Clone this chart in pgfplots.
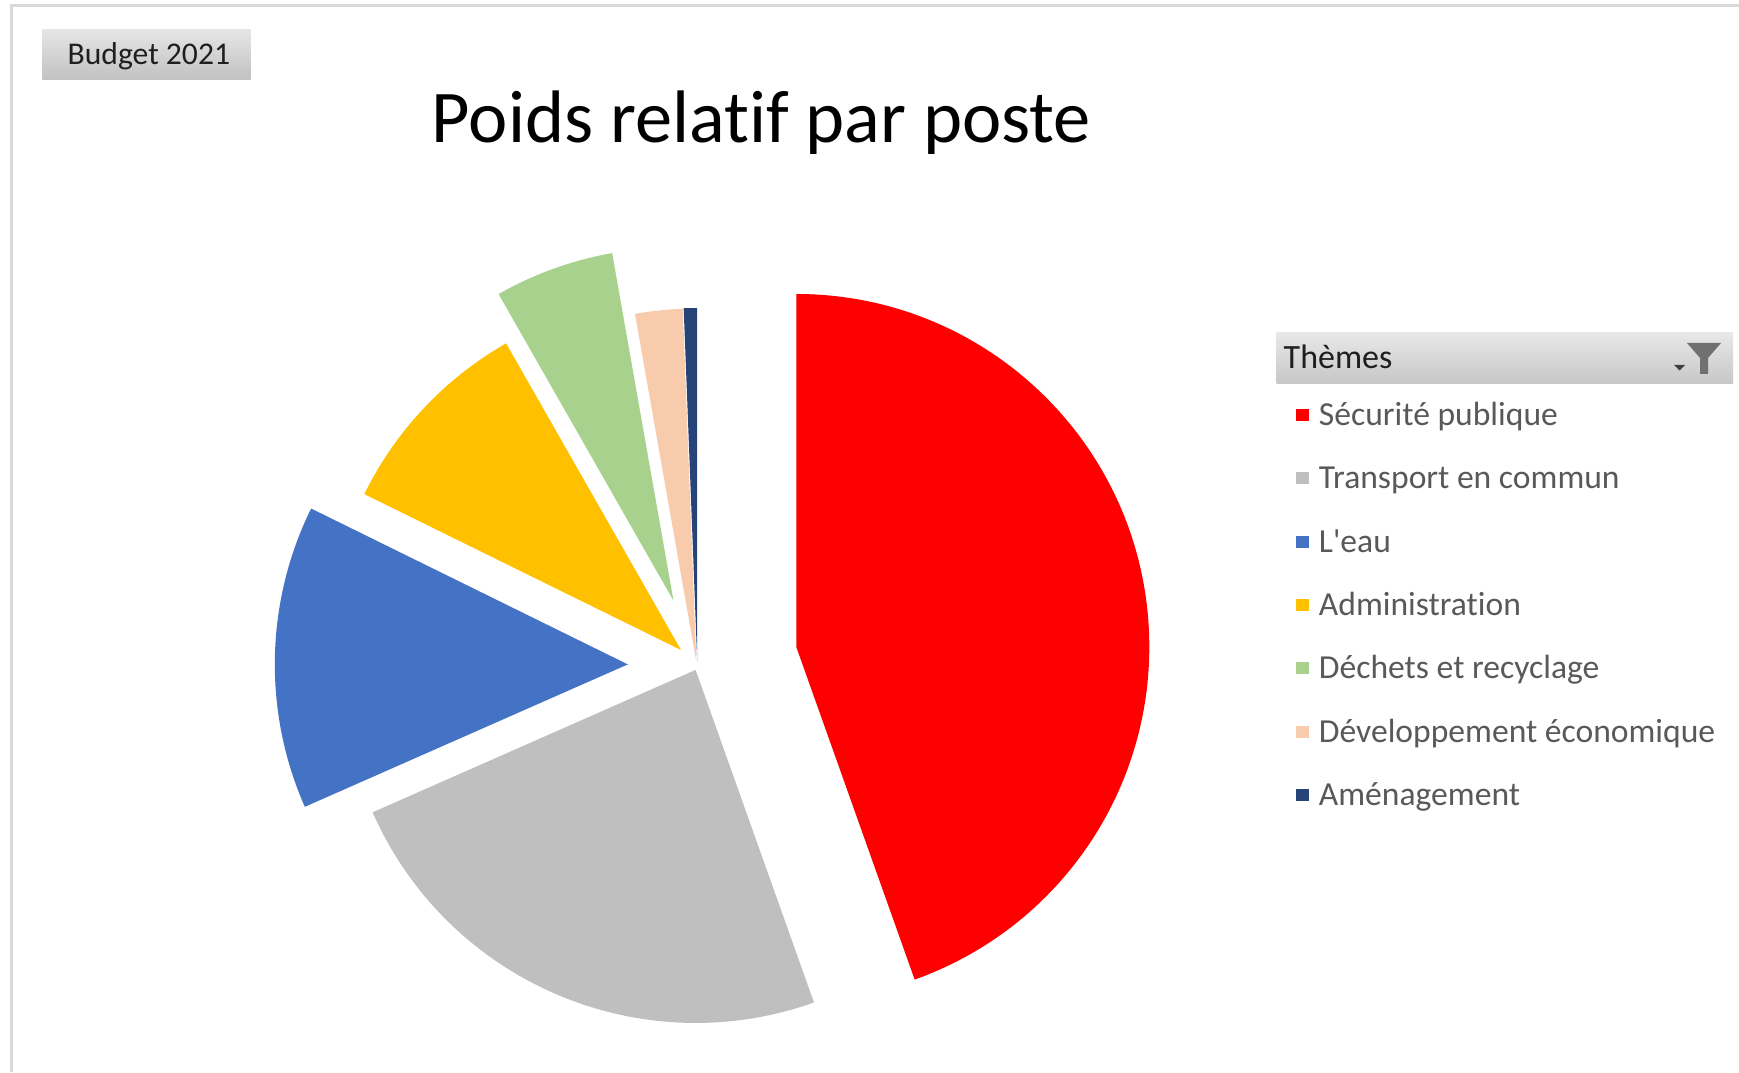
\documentclass[border=0pt]{standalone}
\usepackage{fontspec}
\setmainfont{Carlito}[Ligatures={TeXOff,CommonOff}]
\usepackage{pgfplots}
\usepackage{pgfplotstable}
\pgfplotsset{compat=1.18}

\definecolor{cRed}{HTML}{FF0000}
\definecolor{cGray}{HTML}{BFBFBF}
\definecolor{cBlue}{HTML}{4472C4}
\definecolor{cYellow}{HTML}{FFC000}
\definecolor{cGreen}{HTML}{A9D18E}
\definecolor{cPeach}{HTML}{F8CBAD}
\definecolor{cNavy}{HTML}{264478}
\definecolor{legtext}{HTML}{595959}
\definecolor{frame}{HTML}{D9D9D9}

% value = share in percent; cx, cy = apex of the (exploded) slice in picture pixels (y downwards)
\pgfplotstableread[col sep=comma]{
name,value,cx,cy,col
Sécurité publique,44.56,796.3,647.0,cRed
Transport en commun,23.83,695.6,669.9,cGray
L'eau,13.89,627.8,664.4,cBlue
Administration,9.47,681.0,650.0,cYellow
Déchets et recyclage,5.47,673.5,600.7,cGreen
Développement économique,2.17,696.3,661.5,cPeach
Aménagement,0.61,697.2,661.0,cNavy
}\slices

\begin{document}
\begin{tikzpicture}
\pgfplotstablegetrowsof{\slices}\pgfmathtruncatemacro\nlast{\pgfplotsretval-1}
\xdef\total{0}
\foreach \i in {0,...,\nlast}{\pgfplotstablegetelem{\i}{value}\of\slices\pgfmathparse{\total+\pgfplotsretval}\xdef\total{\pgfmathresult}}
\xdef\cum{0}
\foreach \i in {0,...,\nlast}{%
  \pgfplotstablegetelem{\i}{value}\of\slices\let\myv\pgfplotsretval
  \pgfmathsetmacro\mysa{90-(\cum/\total)*360}%
  \pgfmathparse{\cum+\myv}\xdef\cum{\pgfmathresult}%
  \pgfmathsetmacro\mysb{90-(\cum/\total)*360}%
  \expandafter\xdef\csname sa\i\endcsname{\mysa}%
  \expandafter\xdef\csname sb\i\endcsname{\mysb}%
  \pgfplotstablegetelem{\i}{cx}\of\slices\let\myx\pgfplotsretval
  \expandafter\xdef\csname cx\i\endcsname{\myx}%
  \pgfplotstablegetelem{\i}{cy}\of\slices\pgfmathsetmacro\myy{1072-\pgfplotsretval}%
  \expandafter\xdef\csname cy\i\endcsname{\myy}%
  \pgfmathsetmacro\mypx{\myx+353*cos(\mysa)}\expandafter\xdef\csname px\i\endcsname{\mypx}%
  \pgfmathsetmacro\mypy{\myy+353*sin(\mysa)}\expandafter\xdef\csname py\i\endcsname{\mypy}%
  \pgfplotstablegetelem{\i}{name}\of\slices\expandafter\xdef\csname nm\i\endcsname{\pgfplotsretval}%
  \pgfplotstablegetelem{\i}{col}\of\slices\expandafter\xdef\csname col\i\endcsname{\pgfplotsretval}%
  \pgfmathsetmacro\myb{1072-(425.5+63.3*\i)}%
  \expandafter\xdef\csname by\i\endcsname{\myb}%
  \pgfmathsetmacro\myl{\myb+10.3-6}\expandafter\xdef\csname lyl\i\endcsname{\myl}%
  \pgfmathsetmacro\myu{\myb+10.3+6}\expandafter\xdef\csname lyu\i\endcsname{\myu}%
}
\begin{axis}[width=869.5pt,height=536pt,scale only axis,
  xmin=0,xmax=1739,ymin=0,ymax=1072,hide axis,clip=false]
\addplot[draw=none,forget plot] coordinates {(0,0) (1739,1072)};
% frame
\fill[frame] (axis cs:10,1068) rectangle (axis cs:1739,1065);
\fill[frame] (axis cs:10,1068) rectangle (axis cs:13,0);
% slices
\pgfplotsinvokeforeach{0,...,6}{%
  \edef\tmp{\noexpand\fill[fill=\csname col#1\endcsname] (axis cs:\csname cx#1\endcsname,\csname cy#1\endcsname) -- (axis cs:\csname px#1\endcsname,\csname py#1\endcsname) arc[start angle=\csname sa#1\endcsname,end angle=\csname sb#1\endcsname,radius=176.5pt] -- cycle;}\tmp
}
% Budget button
\shade[top color=black!10,bottom color=black!24] (axis cs:42.3,1042.7) rectangle (axis cs:250.7,992.7);
\node[anchor=base west,inner sep=0pt,text=black!88,font=\fontsize{15.8}{19}\selectfont] at (axis cs:67.3,1007) {Budget 2021};
% title
\node[anchor=base west,inner sep=0pt,text=black,font=\fontsize{37.2}{42}\selectfont] at (axis cs:431.5,929.3) {Poids relatif par poste};
% legend header
\shade[top color=black!9,bottom color=black!22] (axis cs:1276.7,739.3) rectangle (axis cs:1733,688.7);
\node[anchor=base west,inner sep=0pt,text=black!88,font=\fontsize{17}{20}\selectfont] at (axis cs:1283.3,703.7) {Thèmes};
\fill[black!56] (axis cs:1687,729) -- (axis cs:1721,729) -- (axis cs:1708,714) -- (axis cs:1708,698) -- (axis cs:1700,698) -- (axis cs:1700,714) -- cycle;
\fill[black!75] (axis cs:1674,707) -- (axis cs:1685,707) -- (axis cs:1679.5,701.5) -- cycle;
% legend entries
\pgfplotsinvokeforeach{0,...,6}{%
  \edef\tmp{\noexpand\fill[fill=\csname col#1\endcsname] (axis cs:1295.5,\csname lyl#1\endcsname) rectangle (axis cs:1309,\csname lyu#1\endcsname);}\tmp
  \edef\tmp{\noexpand\node[anchor=base west,inner sep=0pt,text=legtext,font=\noexpand\fontsize{16.8}{20}\noexpand\selectfont] at (axis cs:1318.5,\csname by#1\endcsname) {\csname nm#1\endcsname};}\tmp
}
\end{axis}
\end{tikzpicture}
\end{document}
